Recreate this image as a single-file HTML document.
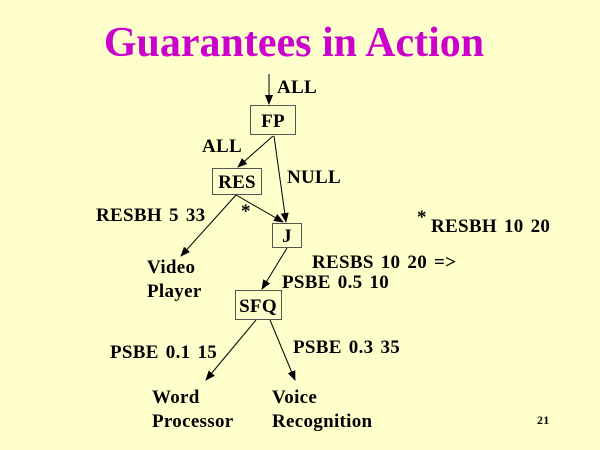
<!DOCTYPE html>
<html><head><style>
body{margin:0;background:#ffffcc;}
svg{display:block}
text{font-family:"Liberation Serif",serif;font-weight:bold;fill:#000;font-size:19px;letter-spacing:0.3px;word-spacing:2px}
</style></head><body>
<svg width="600" height="450" viewBox="0 0 600 450">
<defs><marker id="a" markerWidth="10" markerHeight="10" refX="9" refY="4" orient="auto" markerUnits="userSpaceOnUse"><path d="M0,0 L10,4 L0,8 Z" fill="#000"/></marker></defs>
<rect width="600" height="450" fill="#ffffcc"/>
<text x="294" y="56" text-anchor="middle" style="font-size:42px;fill:#cc00cc;letter-spacing:0;word-spacing:0">Guarantees in Action</text>
<g stroke="#000" stroke-width="1" fill="none">
<line x1="269" y1="74" x2="269" y2="104" marker-end="url(#a)"/>
<line x1="273" y1="136" x2="238" y2="167" marker-end="url(#a)"/>
<line x1="274" y1="136" x2="286" y2="222" marker-end="url(#a)"/>
<line x1="236" y1="195" x2="283" y2="222" marker-end="url(#a)"/>
<line x1="236" y1="195" x2="181" y2="256" marker-end="url(#a)"/>
<line x1="287" y1="248" x2="262" y2="289" marker-end="url(#a)"/>
<line x1="256" y1="320" x2="206" y2="380" marker-end="url(#a)"/>
<line x1="270" y1="320" x2="295" y2="380" marker-end="url(#a)"/>
</g>
<g fill="#ffffcc" stroke="#555" stroke-width="1">
<rect x="250.5" y="105.5" width="45" height="29"/>
<rect x="212.5" y="168.5" width="49" height="26"/>
<rect x="272.5" y="223.5" width="29" height="24"/>
<rect x="235.5" y="290.5" width="46" height="29"/>
</g>
<text x="273" y="127" text-anchor="middle">FP</text>
<text x="237" y="188" text-anchor="middle">RES</text>
<text x="287" y="242" text-anchor="middle">J</text>
<text x="258" y="312" text-anchor="middle">SFQ</text>
<text x="277" y="93">ALL</text>
<text x="202" y="152">ALL</text>
<text x="287" y="183">NULL</text>
<text x="96" y="221">RESBH 5 33</text>
<text x="241" y="217">*</text>
<text x="417" y="223">*</text>
<text x="431" y="232">RESBH 10 20</text>
<text x="147" y="273">Video</text>
<text x="147" y="297">Player</text>
<text x="312" y="268">RESBS 10 20 =&gt;</text>
<text x="282" y="288">PSBE 0.5 10</text>
<text x="110" y="358">PSBE 0.1 15</text>
<text x="293" y="353">PSBE 0.3 35</text>
<text x="152" y="403">Word</text>
<text x="152" y="427">Processor</text>
<text x="272" y="403">Voice</text>
<text x="272" y="427">Recognition</text>
<text x="537" y="424" style="font-size:12px">21</text>
</svg>
</body></html>
